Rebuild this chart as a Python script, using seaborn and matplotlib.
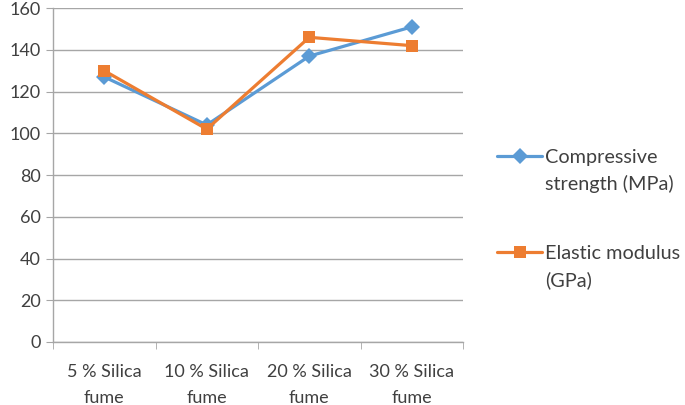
import pandas as pd
import matplotlib
matplotlib.use('Agg')
import matplotlib.pyplot as plt
import seaborn as sns
from matplotlib.lines import Line2D

# data
categories = ['5 % Silica\nfume', '10 % Silica\nfume', '20 % Silica\nfume', '30 % Silica\nfume']
compressive = [127, 104, 137, 151]
elastic = [130, 102, 146, 142]
series_names = ['Compressive strength (MPa)', 'Elastic modulus (GPa)']

sns.set_style('white')
plt.rcParams['font.family'] = ['Lato', 'DejaVu Sans']

df = pd.DataFrame({
    'pos': list(range(len(categories))) * 2,
    'value': compressive + elastic,
    'series': [series_names[0]] * 4 + [series_names[1]] * 4,
})

blue = '#5B9BD5'
orange = '#ED7D31'
grid_c = '#A6A6A6'
text_c = '#404040'

fig = plt.figure(figsize=(6.85, 4.05), dpi=100)
ax = fig.add_axes([0.0774, 0.1556, 0.5986, 0.8244])

sns.lineplot(data=df, x='pos', y='value', hue='series', style='series',
             palette=[blue, orange], markers=['D', 's'], dashes=False,
             linewidth=2.3, markersize=8, markeredgewidth=0,
             legend=False, ax=ax)

ax.set_xlim(-0.5, 3.5)
ax.set_ylim(0, 160)
ax.set_yticks(range(0, 161, 20))
ax.set_xticks(range(len(categories)))
ax.set_xticklabels(categories)
for lab in ax.get_xticklabels():
    lab.set_linespacing(1.75)
ax.set_xticks([-0.5, 0.5, 1.5, 2.5, 3.5], minor=True)
ax.tick_params(axis='x', which='major', length=0, pad=16, labelsize=13, labelcolor=text_c)
ax.tick_params(axis='x', which='minor', length=5, color=grid_c, direction='out', bottom=True)
ax.tick_params(axis='y', length=5, color=grid_c, direction='out', left=True, pad=4,
               labelsize=13, labelcolor=text_c)
ax.set_xlabel('')
ax.set_ylabel('')
ax.grid(axis='y', color=grid_c, linewidth=1)
ax.set_axisbelow(True)
for s in ['top', 'right']:
    ax.spines[s].set_visible(False)
for s in ['left', 'bottom']:
    ax.spines[s].set_color(grid_c)
    ax.spines[s].set_linewidth(1)

# legend: handle aligned with the first line of each label
blank = Line2D([], [], color='none')
h1 = Line2D([], [], color=blue, marker='D', lw=2.3, ms=8, mew=0)
h2 = Line2D([], [], color=orange, marker='s', lw=2.3, ms=8, mew=0)
leg_kw = dict(frameon=False, borderpad=0, borderaxespad=0, handlelength=2.25,
              handletextpad=0.15, labelspacing=0.45, fontsize=14.3, labelcolor=text_c,
              loc='upper left', bbox_transform=fig.transFigure)
leg1 = ax.legend([h1, blank], ['Compressive', 'strength (MPa)'],
                 bbox_to_anchor=(0.726, 0.631), **leg_kw)
ax.add_artist(leg1)
ax.legend([h2, blank], ['Elastic modulus', '(GPa)'],
          bbox_to_anchor=(0.726, 0.395), **leg_kw)

fig.savefig('out.png', dpi=100)
